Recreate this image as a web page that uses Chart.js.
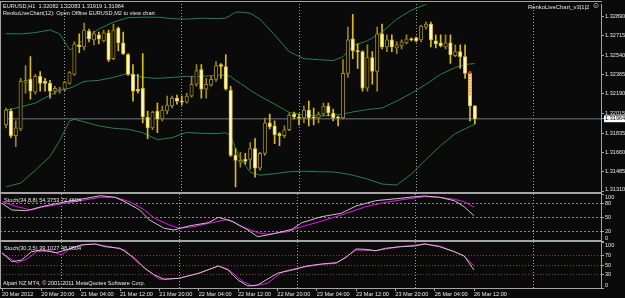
<!DOCTYPE html>
<html>
<head>
<meta charset="utf-8">
<script src="https://cdn.jsdelivr.net/npm/chart.js"></script>
<style>
  html, body { margin: 0; padding: 0; background: #0a0a0a; }
  #wrap { position: relative; width: 625px; height: 298px; overflow: hidden; background: #0a0a0a;
          font-family: "Liberation Sans", Arial, sans-serif; }
  canvas { position: absolute; left: 0; }
  .txt { position: absolute; color: #e6e6e6; font-size: 5.6px; line-height: 6px; white-space: pre; }
  .ln { position: absolute; background: #a4a4a4; }
</style>
</head>
<body>
<div id="wrap">
  <canvas id="cMain" width="625" height="200" style="top:0"></canvas>
  <canvas id="cSto1" width="625" height="62" style="top:186px"></canvas>
  <canvas id="cSto2" width="625" height="64" style="top:234px"></canvas>

  <div class="ln" style="left:0;top:1px;width:602px;height:1px"></div>
  <div class="ln" style="left:0;top:1px;width:1px;height:287px"></div>
  <div class="ln" style="left:0;top:192px;width:602px;height:2px"></div>
  <div class="ln" style="left:0;top:240px;width:602px;height:2px"></div>

  <div class="txt" style="left:3px;top:3px">EURUSD,H1  1.32082 1.32083 1.31919 1.31964</div>
  <div class="txt" style="left:3px;top:10px">RenkoLiveChart(12): Open Offline EURUSD,M2 to view chart</div>
  <div class="txt" style="left:528px;top:4px;font-size:5.9px">RenkoLiveChart_v3|1|2</div>
  <div class="txt" style="left:592px;top:2px;font-size:8px;line-height:8px">&#9786;</div>
  <div class="txt" style="left:4px;top:197px">Stoch(34,8,8) 54.3753 72.4604</div>
  <div class="txt" style="left:4px;top:245px">Stoch(30,3,5) 39.1027 48.0604</div>
  <div class="txt" style="left:3px;top:280px">Alpari NZ MT4, © 2001-2011 MetaQuotes Software Corp.</div>
</div>
<script>
// bar index 0 = 20 Mar 12:00, H1 bars
const timeLabels = ['20 Mar 2012', '20 Mar 20:00', '21 Mar 04:00', '21 Mar 12:00', '21 Mar 20:00', '22 Mar 04:00',
  '22 Mar 12:00', '22 Mar 20:00', '23 Mar 04:00', '23 Mar 12:00', '23 Mar 20:00', '26 Mar 04:00', '26 Mar 12:00'];
const timeTickBars = [0, 8, 16, 24, 32, 40, 48, 56, 64, 72, 80, 88, 96];
const dayGridBars = [12, 36, 60, 84, 108];

const priceTicks = [1.32890, 1.32715, 1.32540, 1.32365, 1.32190, 1.32015, 1.31835, 1.31660, 1.31485, 1.31310];
const bidPrice = 1.31964;

const opens = [
  1.31910, 1.32035, 1.31812, 1.31874, 1.32293, 1.32320, 1.32204, 1.32347, 1.32302, 1.32284,
  1.32213, 1.32222, 1.32231, 1.32284, 1.32365, 1.32632, 1.32614, 1.32757, 1.32676, 1.32721,
  1.32668, 1.32739, 1.32507, 1.32783, 1.32650, 1.32543, 1.32365, 1.32231, 1.32240, 1.31981,
  1.31883, 1.32035, 1.31964, 1.32035, 1.32080, 1.32151, 1.32124, 1.32115, 1.32169, 1.32276,
  1.32409, 1.32231, 1.32267, 1.32320, 1.32454, 1.32436, 1.32222, 1.31634, 1.31571, 1.31598,
  1.31598, 1.31696, 1.31518, 1.31652, 1.31928, 1.31901, 1.31830, 1.31812, 1.31866, 1.32008,
  1.31981, 1.31972, 1.32044, 1.31981, 1.31972, 1.32008, 1.32080, 1.32017, 1.31981, 1.31972,
  1.32374, 1.32685, 1.32578, 1.32570, 1.32240, 1.32516, 1.32391, 1.32730, 1.32614, 1.32676,
  1.32605, 1.32623, 1.32650, 1.32685, 1.32694, 1.32676, 1.32792, 1.32819, 1.32668, 1.32650,
  1.32614, 1.32650, 1.32534, 1.32570, 1.32525, 1.32374, 1.32082];
const highs = [
  1.32062, 1.32053, 1.31946, 1.32329, 1.32445, 1.32525, 1.32365, 1.32391, 1.32329, 1.32311,
  1.32258, 1.32249, 1.32302, 1.32391, 1.32659, 1.32730, 1.32828, 1.32774, 1.32757, 1.32748,
  1.32766, 1.32766, 1.32819, 1.32792, 1.32748, 1.32552, 1.32454, 1.32365, 1.32552, 1.32035,
  1.32035, 1.32106, 1.32080, 1.32169, 1.32169, 1.32178, 1.32169, 1.32195, 1.32347, 1.32454,
  1.32454, 1.32329, 1.32347, 1.32480, 1.32463, 1.32543, 1.32258, 1.31696, 1.31661, 1.31652,
  1.31750, 1.31785, 1.31661, 1.31972, 1.32008, 1.31946, 1.31839, 1.31901, 1.32017, 1.32026,
  1.32008, 1.32080, 1.32124, 1.32062, 1.32026, 1.32106, 1.32106, 1.32053, 1.31990, 1.32498,
  1.32792, 1.32908, 1.32641, 1.32578, 1.32632, 1.32570, 1.32792, 1.32819, 1.32721, 1.32721,
  1.32659, 1.32676, 1.32721, 1.32694, 1.32703, 1.32810, 1.32837, 1.32837, 1.32721, 1.32721,
  1.32721, 1.32721, 1.32632, 1.32632, 1.32632, 1.32391, 1.32083];
const lows = [
  1.31883, 1.31794, 1.31714, 1.31857, 1.32195, 1.32142, 1.32186, 1.32213, 1.32213, 1.32151,
  1.32186, 1.32195, 1.32213, 1.32276, 1.32356, 1.32561, 1.32587, 1.32659, 1.32632, 1.32641,
  1.32659, 1.32480, 1.32498, 1.32578, 1.32543, 1.32356, 1.32124, 1.32195, 1.31928, 1.31785,
  1.31866, 1.31839, 1.31946, 1.32008, 1.32062, 1.32097, 1.32088, 1.32106, 1.32160, 1.32258,
  1.32151, 1.32151, 1.32258, 1.32302, 1.32329, 1.32222, 1.31625, 1.31349, 1.31527, 1.31554,
  1.31509, 1.31438, 1.31500, 1.31634, 1.31874, 1.31741, 1.31723, 1.31794, 1.31857, 1.31964,
  1.31910, 1.31928, 1.31901, 1.31910, 1.31928, 1.31990, 1.31990, 1.31946, 1.31901, 1.31964,
  1.32338, 1.32507, 1.32418, 1.32213, 1.32213, 1.32276, 1.32213, 1.32596, 1.32570, 1.32570,
  1.32552, 1.32596, 1.32641, 1.32668, 1.32659, 1.32659, 1.32774, 1.32614, 1.32605, 1.32614,
  1.32596, 1.32463, 1.32525, 1.32418, 1.32329, 1.31946, 1.31919];
const closes = [
  1.32044, 1.31812, 1.31883, 1.32302, 1.32311, 1.32213, 1.32347, 1.32284, 1.32284, 1.32213,
  1.32240, 1.32231, 1.32293, 1.32382, 1.32641, 1.32614, 1.32766, 1.32685, 1.32730, 1.32685,
  1.32739, 1.32498, 1.32766, 1.32650, 1.32552, 1.32365, 1.32213, 1.32213, 1.31981, 1.31883,
  1.32026, 1.31964, 1.32044, 1.32088, 1.32151, 1.32124, 1.32115, 1.32169, 1.32276, 1.32400,
  1.32231, 1.32276, 1.32320, 1.32445, 1.32436, 1.32231, 1.31634, 1.31589, 1.31589, 1.31580,
  1.31696, 1.31518, 1.31652, 1.31928, 1.31892, 1.31821, 1.31812, 1.31866, 1.31999, 1.31981,
  1.31972, 1.32044, 1.31972, 1.31972, 1.32008, 1.32080, 1.32017, 1.31972, 1.31972, 1.32374,
  1.32676, 1.32578, 1.32570, 1.32240, 1.32516, 1.32391, 1.32730, 1.32614, 1.32676, 1.32614,
  1.32632, 1.32659, 1.32685, 1.32676, 1.32668, 1.32801, 1.32819, 1.32676, 1.32641, 1.32623,
  1.32650, 1.32543, 1.32570, 1.32525, 1.32374, 1.32080, 1.31964];

// bands, read at these bars
const bandBars = [0, 3, 6, 9, 11, 12, 13, 14, 16, 19, 22, 25, 28, 31, 34, 37, 40, 43, 45, 46,
  47, 48, 50, 52, 55, 58, 61, 64, 67, 69, 71, 74, 77, 80, 83, 86, 89, 92, 94, 96];
const bandUpper = [1.32733, 1.32730, 1.32742, 1.32766, 1.32730, 1.32659, 1.32587, 1.32605, 1.32685, 1.32774,
  1.32837, 1.32877, 1.32881, 1.32881, 1.32868, 1.32864, 1.32872, 1.32868, 1.32872, 1.32899,
  1.32926, 1.32926, 1.32917, 1.32864, 1.32721, 1.32570, 1.32507, 1.32498, 1.32489, 1.32525,
  1.32623, 1.32668, 1.32748, 1.32864, 1.32944, 1.32997, 1.33060, 1.33122, 1.33166, 1.33211];
const bandMiddle = [1.32044, 1.32071, 1.32106, 1.32178, 1.32222, 1.32231, 1.32240, 1.32258, 1.32302, 1.32311,
  1.32338, 1.32374, 1.32338, 1.32329, 1.32338, 1.32347, 1.32347, 1.32356, 1.32360, 1.32347,
  1.32311, 1.32284, 1.32222, 1.32169, 1.32097, 1.32022, 1.31999, 1.31990, 1.31995, 1.32008,
  1.32026, 1.32048, 1.32062, 1.32124, 1.32195, 1.32276, 1.32365, 1.32427, 1.32454, 1.32463];
const bandLower = [1.31351, 1.31384, 1.31500, 1.31625, 1.31768, 1.31857, 1.31946, 1.31959, 1.31937, 1.31901,
  1.31879, 1.31870, 1.31839, 1.31776, 1.31794, 1.31842, 1.31833, 1.31830, 1.31839, 1.31812,
  1.31696, 1.31607, 1.31482, 1.31456, 1.31469, 1.31487, 1.31491, 1.31487, 1.31485, 1.31473,
  1.31456, 1.31420, 1.31376, 1.31367, 1.31465, 1.31598, 1.31723, 1.31830, 1.31874, 1.31916];

const renkoBars = [95, 95];
const renkoPrices = [1.32382, 1.32169];

// Stoch(34,8,8)
const stoch1MainBars = [0, 2, 5, 8, 12, 16, 20, 23, 25, 28, 30, 33, 35, 38, 42, 44, 47, 50, 52, 55,
  59, 61, 65, 69, 72, 76, 81, 84, 86, 89, 92, 94, 96];
const stoch1Main = [81, 66.7, 65.2, 73.8, 82.4, 89.7, 97.4, 94, 84.5, 66.7, 45.2, 27.3, 23.7, 32.3, 39.4, 51, 41.5, 23.7, 9.2, 15,
  25.2, 39.4, 52.3, 59.6, 75.3, 86.7, 91.8, 95.3, 96.8, 94, 86.7, 73.8, 54.4];
const stoch1SignalBars = [0, 3, 6, 8, 12, 16, 20, 23, 26, 29, 31, 34, 36, 39, 42, 46, 48, 52, 54, 58,
  61, 65, 69, 74, 78, 82, 86, 89, 92, 94, 96];
const stoch1Signal = [84.5, 73.8, 66.7, 72.5, 79.6, 86.7, 94, 94, 84.5, 66.7, 48.8, 34.4, 27.3, 30.8, 38, 46.7, 34.4, 17.8, 14.4, 20,
  30.8, 42.6, 55.9, 73.8, 83.2, 89.7, 95.3, 94, 89.7, 84.5, 72.5];

// Stoch(30,3,5)
const stoch2MainBars = [0, 2, 4, 6, 8, 11, 13, 16, 19, 21, 24, 27, 29, 31, 33, 36, 40, 44, 46, 48,
  50, 52, 56, 59, 62, 65, 68, 70, 72, 74, 76, 78, 81, 84, 86, 89, 92, 94, 96];
const stoch2Main = [76.7, 57.2, 60.9, 78.9, 82.6, 76.7, 82.6, 93.5, 95.7, 89.8, 86.3, 64.6, 42.8, 28.3, 18.9, 21.1, 32, 47.8, 39.1, 17.4,
  4.3, 6.5, 32, 39.1, 47.8, 52.2, 55, 66.7, 84.8, 84.1, 81.1, 86.3, 89.8, 91.3, 95.7, 89.8, 78.9, 69.6, 39.1];
const stoch2SignalBars = [0, 3, 5, 7, 10, 12, 14, 17, 19, 22, 25, 27, 30, 32, 36, 40, 44, 46, 49, 51,
  54, 57, 61, 65, 68, 72, 76, 81, 86, 89, 92, 94, 96];
const stoch2Signal = [75.4, 55, 62.4, 78.9, 81.1, 71.7, 86.3, 95, 95, 89.8, 82.6, 60.9, 35.4, 18.9, 21.1, 32, 47.8, 40.7, 13.7, 4.3,
  10.2, 35.4, 45, 51.5, 53.7, 82.6, 81.1, 89.8, 95.7, 91.3, 78.9, 69.6, 48.1];

// ---- look ----
const X_MIN = -0.41, X_MAX = 121.83;
const AXIS_W = 24;
const FRAME = '#a4a4a4';
const TXT = '#e6e6e6';
const FONT = { family: "'Liberation Sans', Arial, sans-serif", size: 5.6 };
const BAND = '#23824c';
const BULL_EDGE = '#9c8614', BEAR_EDGE = '#d9bb1c', BEAR_FILL = '#fff9c8';

Chart.defaults.font.family = FONT.family;

const isBull = i => closes[i] >= opens[i];
const pts = (xs, ys) => xs.map((x, k) => ({ x: x, y: ys[k] }));

// MT4 keeps edge labels inside the panel
const clampLabels = {
  id: 'clampLabels',
  beforeDraw(chart) {
    const s = chart.scales.y;
    s.getLabelItems().forEach(it => {
      const t = it.options.translation;
      t[1] = Math.min(Math.max(t[1], s.top + 3), s.bottom - 3);
    });
  }
};

function dayGridAxis() {
  return {
    type: 'linear', position: 'top', min: X_MIN, max: X_MAX, offset: false,
    afterBuildTicks: s => { s.ticks = dayGridBars.map(v => ({ value: v })); },
    afterFit: s => { s.height = 0; },
    ticks: { display: false },
    grid: { color: '#a0a0a0', lineWidth: 1, drawTicks: false, offset: false },
    border: { display: false, dash: [1, 2] }
  };
}

function baseOptions(padTop, padBottom) {
  return {
    responsive: false, animation: false, devicePixelRatio: 1,
    layout: { padding: { top: padTop, bottom: padBottom, left: 0, right: 0 } },
    plugins: { legend: { display: false }, tooltip: { enabled: false } }
  };
}

// ---- main price panel ----
const barIdx = opens.map((_, i) => i);
const mainOpts = baseOptions(2, 8);
mainOpts.scales = {
  x: { type: 'linear', min: X_MIN, max: X_MAX, display: false, offset: false },
  xg: dayGridAxis(),
  y: {
    position: 'right', min: 1.31304, max: 1.32997,
    afterFit: s => { s.width = AXIS_W; },
    afterBuildTicks: s => { s.ticks = priceTicks.concat([bidPrice]).map(v => ({ value: v })); },
    ticks: {
      font: FONT, padding: 1, autoSkip: false,
      color: c => c.tick.value === bidPrice ? '#000' : TXT,
      callback: v => v.toFixed(5),
      showLabelBackdrop: c => c.tick.value === bidPrice,
      backdropColor: '#ffffff',
      backdropPadding: { top: 0, bottom: 0, left: 1, right: 4 }
    },
    grid: { drawOnChartArea: false, drawTicks: true, tickLength: 3, tickColor: FRAME, color: FRAME },
    border: { display: true, color: FRAME }
  }
};

new Chart(document.getElementById('cMain'), {
  type: 'bar',
  data: {
    datasets: [
      { type: 'line', data: pts(bandBars, bandUpper), borderColor: BAND, borderWidth: 1, pointRadius: 0, order: 6 },
      { type: 'line', data: pts(bandBars, bandMiddle), borderColor: BAND, borderWidth: 1, pointRadius: 0, order: 6 },
      { type: 'line', data: pts(bandBars, bandLower), borderColor: BAND, borderWidth: 1, pointRadius: 0, order: 6 },
      { type: 'line', data: [{ x: X_MIN, y: bidPrice }, { x: X_MAX, y: bidPrice }],
        borderColor: '#6c7a8c', borderWidth: 1, pointRadius: 0, order: 5 },
      {
        data: barIdx.map(i => ({ x: i, y: [lows[i], highs[i]] })),
        backgroundColor: c => isBull(c.dataIndex) ? BULL_EDGE : BEAR_EDGE,
        barThickness: 1, grouped: false, order: 3
      },
      {
        data: barIdx.map(i => ({ x: i, y: [opens[i], closes[i]] })),
        backgroundColor: c => isBull(c.dataIndex) ? '#0a0a0a' : BEAR_FILL,
        borderColor: c => isBull(c.dataIndex) ? BULL_EDGE : BEAR_EDGE,
        borderWidth: 1, borderSkipped: false, barThickness: 3.5, minBarLength: 1,
        grouped: false, order: 2
      },
      { type: 'line', data: pts(renkoBars, renkoPrices), borderColor: '#ff3a3a', borderWidth: 1,
        borderDash: [2, 1], pointRadius: c => c.dataIndex === 0 ? 1.6 : 0,
        pointBackgroundColor: '#ff2020', pointBorderWidth: 0, order: 1 }
    ]
  },
  options: mainOpts,
  plugins: [clampLabels]
});

// ---- stochastic panels ----
function stochChart(id, o) {
  const opts = baseOptions(o.padTop, o.padBottom);
  opts.scales = {
    x: o.timeAxis ? {
      type: 'linear', position: 'bottom', min: X_MIN, max: X_MAX, offset: false,
      afterBuildTicks: s => { s.ticks = timeTickBars.map(v => ({ value: v })); },
      afterFit: s => { s.height = 10; },
      ticks: { font: FONT, color: TXT, align: 'start', padding: 0, maxRotation: 0, autoSkip: false,
               callback: (v, k) => timeLabels[k] },
      grid: { drawOnChartArea: false, drawTicks: true, tickLength: 3, tickColor: FRAME, color: FRAME },
      border: { display: true, color: FRAME }
    } : { type: 'linear', min: X_MIN, max: X_MAX, display: false, offset: false },
    xg: dayGridAxis(),
    y: {
      position: 'right', min: o.yMin, max: o.yMax,
      afterFit: s => { s.width = AXIS_W; },
      afterBuildTicks: s => { s.ticks = o.ticks.map(v => ({ value: v })); },
      ticks: { font: FONT, color: TXT, padding: 1, autoSkip: false },
      grid: {
        drawOnChartArea: true, drawTicks: true, tickLength: 3, tickColor: FRAME,
        color: c => o.levels.includes(c.tick.value) ? o.levelColor : 'rgba(0,0,0,0)'
      },
      border: { display: true, color: FRAME, dash: o.levelDash }
    }
  };
  new Chart(document.getElementById(id), {
    type: 'line',
    data: {
      datasets: [
        { data: pts(o.mainBars, o.main), borderColor: '#c4c4c4', borderWidth: 1, pointRadius: 0 },
        { data: pts(o.sigBars, o.sig), borderColor: '#f010f0', borderWidth: 1, pointRadius: 0 }
      ]
    },
    options: opts,
    plugins: [clampLabels]
  });
}

stochChart('cSto1', {
  padTop: 8, padBottom: 7, yMin: 0, yMax: 101.1,
  ticks: [100, 80, 50, 20, 0], levels: [80, 50, 20], levelColor: '#8c8c8c', levelDash: [2, 2],
  mainBars: stoch1MainBars, main: stoch1Main, sigBars: stoch1SignalBars, sig: stoch1Signal
});

stochChart('cSto2', {
  padTop: 8, padBottom: 0, yMin: 0, yMax: 100, timeAxis: true,
  ticks: [100, 70, 50, 30, 0], levels: [70, 50, 30], levelColor: '#9a3a22', levelDash: [1, 2],
  mainBars: stoch2MainBars, main: stoch2Main, sigBars: stoch2SignalBars, sig: stoch2Signal
});
</script>
</body>
</html>
